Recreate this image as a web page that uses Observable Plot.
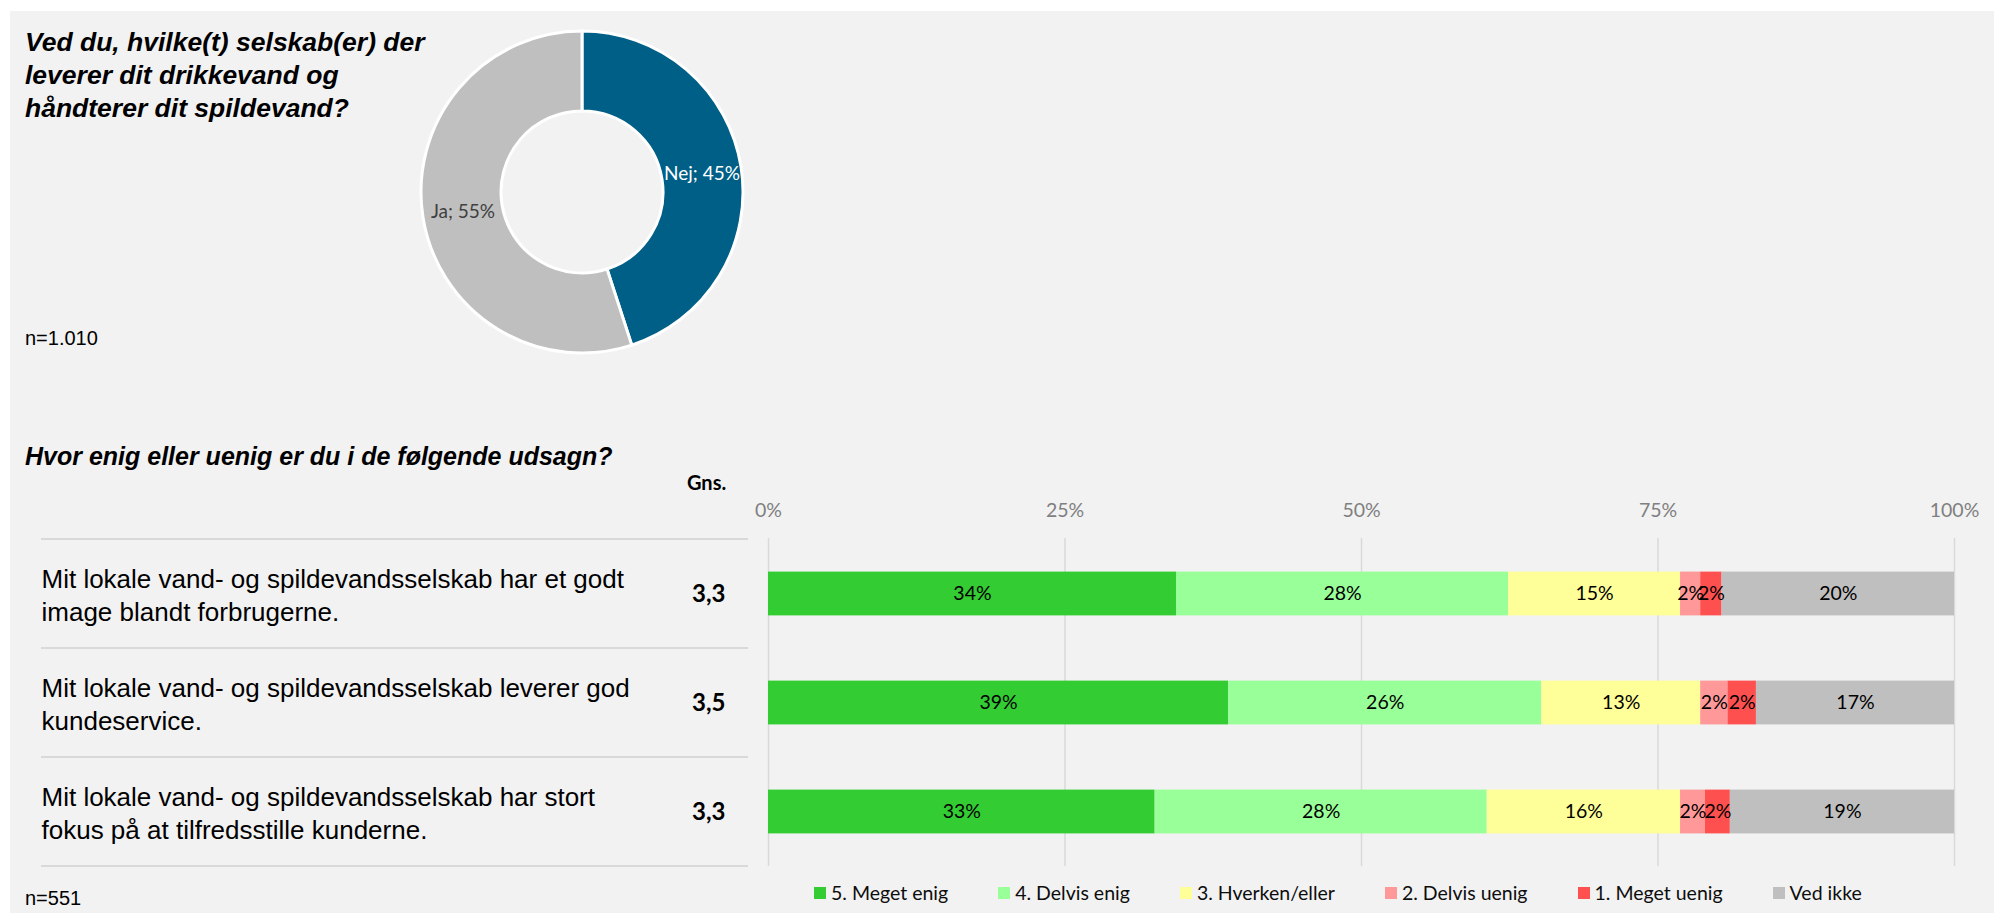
<!DOCTYPE html>
<html>
<head>
<meta charset="utf-8">
<script src="https://cdn.jsdelivr.net/npm/d3@7"></script>
<script src="https://cdn.jsdelivr.net/npm/@observablehq/plot@0.6"></script>
<style>
  html, body { margin: 0; padding: 0; background: #ffffff; }
  body { width: 1994px; height: 915px; position: relative; overflow: hidden; }
  #panel { position: absolute; left: 10px; top: 11px; width: 1984px; height: 902px; background: #f2f2f2; }
  .abs { position: absolute; white-space: nowrap; }
  .title { font-family: "Liberation Sans", Arial, sans-serif; font-weight: bold; font-style: italic; font-size: 25px; line-height: 33px; color: #000; }
  .note { font-family: "Liberation Sans", Arial, sans-serif; font-size: 20px; line-height: 24px; color: #000; }
  .gns { font-family: Lato, "Open Sans", sans-serif; font-weight: bold; font-size: 20px; line-height: 24px; color: #000; }
  #legend { position: absolute; left: 814px; top: 881px; display: flex; gap: 50px; align-items: center;
            font-family: Lato, "Open Sans", sans-serif; font-size: 19.5px; line-height: 24px; color: #0d0d0d; }
  #legend .item { display: flex; align-items: center; }
  #legend .sw { width: 12px; height: 12px; margin-right: 5px; display: inline-block; }
  .plotwrap { position: absolute; }
  .plotwrap svg { overflow: visible; background: transparent; }
  #bars [aria-label^="x-axis"] { color: #7f7f7f; }
</style>
</head>
<body>
<div id="panel"></div>
<div class="abs title" id="t1" style="left:25px; top:26px; font-size:26.5px; line-height:33px;"></div>
<div class="abs note" style="left:25px; top:326px;">n=1.010</div>
<div class="abs title" id="t2" style="left:25px; top:440px;"></div>
<div class="abs gns" style="left:687px; top:470px;">Gns.</div>
<div class="abs note" style="left:25px; top:886px;">n=551</div>
<div class="plotwrap" id="donut" style="left:407px; top:17px;"></div>
<div class="plotwrap" id="bars" style="left:0px; top:490px;"></div>
<div id="legend"></div>

<script>
// ---------- Data: donut ----------
const donutTitle = ["Ved du, hvilke(t) selskab(er) der", "leverer dit drikkevand og", "håndterer dit spildevand?"];
const donutLabels = ["Nej", "Ja"];
const donutValues = [45, 55];
const donutColors = ["#005f86", "#bfbfbf"];
const donutLabelColors = ["#ffffff", "#404040"];

// ---------- Data: stacked bars ----------
const barTitle = "Hvor enig eller uenig er du i de følgende udsagn?";
const statements = [
  "Mit lokale vand- og spildevandsselskab har et godt image blandt forbrugerne.",
  "Mit lokale vand- og spildevandsselskab leverer god kundeservice.",
  "Mit lokale vand- og spildevandsselskab har stort fokus på at tilfredsstille kunderne."
];
const averages = [3.3, 3.5, 3.3];
const responses = ["5. Meget enig", "4. Delvis enig", "3. Hverken/eller", "2. Delvis uenig", "1. Meget uenig", "Ved ikke"];
const responseColors = ["#33cc33", "#99ff99", "#ffff99", "#ff9999", "#ff5050", "#bfbfbf"];
const sharesImage    = [34.4, 28.0, 14.5, 1.7, 1.8, 19.6];
const sharesService  = [38.8, 26.4, 13.4, 2.3, 2.4, 16.7];
const sharesFocus    = [32.6, 28.0, 16.3, 2.1, 2.1, 18.9];
const xTicks = [0, 25, 50, 75, 100];

// ---------- Titles ----------
document.getElementById("t1").innerHTML = donutTitle.join("<br>");
document.getElementById("t2").textContent = barTitle;

// ---------- Donut ----------
const donutData = donutLabels.map((label, i) => ({label, value: donutValues[i], color: donutColors[i], textColor: donutLabelColors[i]}));
const pieArcs = d3.pie().sort(null).value(d => d.value)(donutData);
const R = 175;
const arcGen = d3.arc().innerRadius(81).outerRadius(161);

const donutPlot = Plot.plot({
  width: 2 * R, height: 2 * R, margin: 0,
  x: {type: "identity", axis: null},
  y: {type: "identity", axis: null},
  style: {fontFamily: "Lato, 'Open Sans', sans-serif", fontSize: "19px", background: "transparent", overflow: "visible"},
  marks: [
    () => {
      const g = d3.create("svg:g").attr("transform", `translate(${R},${R})`);
      g.selectAll("path").data(pieArcs).join("path")
        .attr("d", arcGen)
        .attr("fill", d => d.data.color)
        .attr("stroke", "#ffffff")
        .attr("stroke-width", 3);
      return g.node();
    },
    Plot.text(pieArcs, {
      x: d => R + arcGen.centroid(d)[0],
      y: d => R + arcGen.centroid(d)[1],
      text: d => `${d.data.label}; ${d.data.value}%`,
      fill: d => d.data.textColor,
      fontSize: 19
    })
  ]
});
document.getElementById("donut").appendChild(donutPlot);

// ---------- Stacked bars ----------
const shareRows = [sharesImage, sharesService, sharesFocus];
const rows = statements.flatMap((s, i) => responses.map((r, j) => ({statement: s, response: r, value: shareRows[i][j]})));
const daLocale = d3.formatLocale({decimal: ",", thousands: ".", grouping: [3], currency: ["", " kr."]});
const fmtAvg = daLocale.format(".1f");

// wrap statement labels using the real font metrics
const STATEMENT_FONT = "26px 'Liberation Sans', Arial, sans-serif";
const ctx = document.createElement("canvas").getContext("2d");
ctx.font = STATEMENT_FONT;
function wrap(text, maxWidth) {
  const words = text.split(" ");
  const lines = [];
  let line = "";
  for (const w of words) {
    const test = line ? line + " " + w : w;
    if (line && ctx.measureText(test).width > maxWidth) { lines.push(line); line = w; }
    else line = test;
  }
  if (line) lines.push(line);
  return lines.join("\n");
}

function separators(index, scales, values, dimensions) {
  const y = scales.y;
  const inner = dimensions.height - dimensions.marginTop - dimensions.marginBottom;
  const bw = (y && typeof y.bandwidth === "function") ? y.bandwidth() : inner / statements.length;
  const ys = statements.map(s => y(s));
  ys.push(ys[ys.length - 1] + bw);
  const g = d3.create("svg:g");
  g.selectAll("line").data(ys).join("line")
    .attr("x1", 41).attr("x2", 748)
    .attr("y1", d => d).attr("y2", d => d)
    .attr("stroke", "#d9d9d9").attr("stroke-width", 2);
  return g.node();
}

const barPlot = Plot.plot({
  width: 1994, height: 378,
  marginLeft: 768, marginRight: 40, marginTop: 48, marginBottom: 2,
  style: {fontFamily: "Lato, 'Open Sans', sans-serif", fontSize: "19.5px", background: "transparent", overflow: "visible"},
  x: {domain: [0, 100], axis: "top", ticks: xTicks, tickFormat: d => d + "%", tickSize: 0, tickPadding: 22, label: null},
  y: {domain: statements, padding: 0, axis: null},
  color: {domain: responses, range: responseColors},
  marks: [
    Plot.ruleX(xTicks, {x: d => d, stroke: "#d9d9d9", strokeWidth: 1.5}),
    separators,
    Plot.barX(rows, Plot.stackX({x: "value", y: "statement", fill: "response", insetTop: 32.6, insetBottom: 32.6})),
    Plot.text(rows, Plot.stackX({x: "value", y: "statement", z: "response", text: d => Math.round(d.value) + "%", fill: "#000", fontSize: 19.5})),
    Plot.text(statements, {
      y: d => d, text: d => wrap(d, 605), frameAnchor: "left", dx: -727, textAnchor: "start",
      lineHeight: 1.27, fontSize: 26, fill: "#000",
      fontFamily: "'Liberation Sans', Arial, sans-serif"
    }),
    Plot.text(statements, {
      y: d => d, text: (d, i) => fmtAvg(averages[i]), frameAnchor: "left", dx: -43, textAnchor: "end",
      fontSize: 24, fontWeight: "bold", fill: "#000"
    })
  ]
});
document.getElementById("bars").appendChild(barPlot);

// ---------- Legend ----------
const legend = d3.select("#legend");
responses.forEach((r, i) => {
  const item = legend.append("div").attr("class", "item");
  item.append("span").attr("class", "sw").style("background", responseColors[i]);
  item.append("span").text(r);
});
</script>
</body>
</html>
